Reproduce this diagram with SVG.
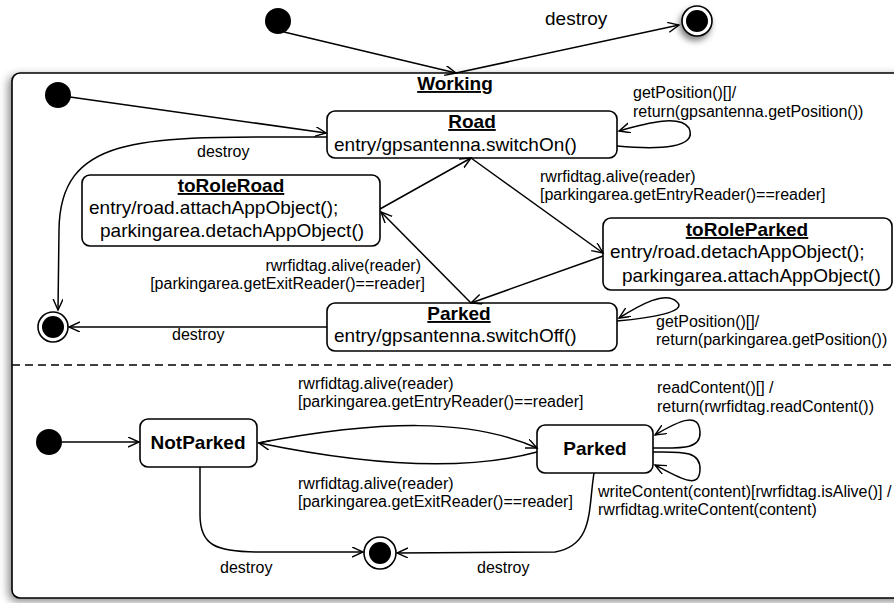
<svg xmlns="http://www.w3.org/2000/svg" width="894" height="603" viewBox="0 0 894 603">
<defs>
<filter id="sh" x="-10%" y="-10%" width="120%" height="120%">
<feDropShadow dx="-3" dy="3" stdDeviation="4" flood-color="#000" flood-opacity="0.45"/>
</filter>
<filter id="sh2" x="-60%" y="-60%" width="220%" height="220%">
<feDropShadow dx="-2" dy="4" stdDeviation="3" flood-color="#000" flood-opacity="0.5"/>
</filter>
<marker id="ar" markerWidth="14" markerHeight="12" refX="11" refY="5" orient="auto" markerUnits="userSpaceOnUse">
<path d="M0,0 L11,5 L0,10" fill="none" stroke="#000" stroke-width="1.4"/>
</marker>
</defs>
<style>
.box{fill:#fff;stroke:#000;stroke-width:1.6}
.ln{fill:none;stroke:#000;stroke-width:1.5}
.t{font-family:"Liberation Sans",Arial,sans-serif;font-size:19px;fill:#000}
.b{font-weight:bold}
.u{text-decoration:underline}
.lb{font-family:"Liberation Sans",Arial,sans-serif;font-size:16px;fill:#000}
.init{fill:#000}
</style>
<rect width="894" height="603" fill="#fff"/>

<g id="Working">
<rect x="12" y="73" width="900" height="525" rx="8" class="box" filter="url(#sh)"/>
<text x="455" y="90" text-anchor="middle" class="t b u">Working</text>
<line x1="12" y1="365" x2="894" y2="365" stroke="#000" stroke-width="1.5" stroke-dasharray="8,5"/>
</g>

<g id="init_top"><circle cx="278" cy="21" r="13" class="init"/></g>
<g id="final_top" filter="url(#sh2)"><circle cx="697" cy="21" r="15" fill="#fff" stroke="#000" stroke-width="1.6"/><circle cx="697" cy="21" r="11" fill="#000"/></g>

<g id="init_work"><circle cx="58" cy="95" r="13" class="init"/></g>
<g id="final_work"><circle cx="53" cy="327" r="15" fill="#fff" stroke="#000" stroke-width="1.6"/><circle cx="53" cy="327" r="11" fill="#000"/></g>

<g id="Road">
<rect x="327" y="111" width="290" height="47" rx="8" class="box"/>
<text x="472" y="128" text-anchor="middle" class="t b u">Road</text>
<text x="334" y="151" class="t">entry/gpsantenna.switchOn()</text>
</g>

<g id="toRoleRoad">
<rect x="82" y="175" width="298" height="71" rx="8" class="box"/>
<text x="231" y="192" text-anchor="middle" class="t b u">toRoleRoad</text>
<text x="89" y="214" class="t">entry/road.attachAppObject();</text>
<text x="100" y="237" class="t">parkingarea.detachAppObject()</text>
</g>

<g id="toRoleParked">
<rect x="603" y="218" width="289" height="72" rx="8" class="box"/>
<text x="747" y="236" text-anchor="middle" class="t b u">toRoleParked</text>
<text x="610" y="258" class="t">entry/road.detachAppObject();</text>
<text x="622" y="282" class="t">parkingarea.attachAppObject()</text>
</g>

<g id="ParkedW">
<rect x="327" y="303" width="290" height="48" rx="8" class="box"/>
<text x="459" y="320" text-anchor="middle" class="t b u">Parked</text>
<text x="334" y="342" class="t">entry/gpsantenna.switchOff()</text>
</g>

<g id="init_low"><circle cx="49" cy="442" r="13" class="init"/></g>
<g id="final_low"><circle cx="380" cy="553" r="16" fill="#fff" stroke="#000" stroke-width="1.6"/><circle cx="380" cy="553" r="11" fill="#000"/></g>

<g id="NotParked">
<rect x="140" y="419" width="117" height="48" rx="8" class="box"/>
<text x="198" y="449" text-anchor="middle" class="t b">NotParked</text>
</g>

<g id="ParkedL">
<rect x="537" y="425" width="116" height="48" rx="8" class="box"/>
<text x="595" y="455" text-anchor="middle" class="t b">Parked</text>
</g>

<g id="connectors">
<path class="ln" d="M284,32 L456,73" marker-end="url(#ar)"/>
<path class="ln" d="M456,73 L679,25" marker-end="url(#ar)"/>
<path class="ln" d="M70,97 L326,133" marker-end="url(#ar)"/>
<path class="ln" d="M327,137 C150,137 60,130 59,230 L58,310" marker-end="url(#ar)"/>
<path class="ln" d="M617,146 C660,150 698,148 689,128 C680,115 650,122 619,131" marker-end="url(#ar)"/>
<path class="ln" d="M380,209 L471,158" marker-end="url(#ar)"/>
<path class="ln" d="M471,158 L603,253" marker-end="url(#ar)"/>
<path class="ln" d="M603,256 L471,303" marker-end="url(#ar)"/>
<path class="ln" d="M471,303 L381,212" marker-end="url(#ar)"/>
<path class="ln" d="M617,321 C650,318 688,312 677,302 C666,290 640,305 619,318" marker-end="url(#ar)"/>
<path class="ln" d="M327,327 L69,327" marker-end="url(#ar)"/>
<path class="ln" d="M62,442 L139,442" marker-end="url(#ar)"/>
<path class="ln" d="M258,443 C380,420 470,418 537,448" marker-end="url(#ar)"/>
<path class="ln" d="M537,452 C470,470 380,468 259,443" marker-end="url(#ar)"/>
<path class="ln" d="M653,448 C680,448 701,450 700,432 C699,412 680,420 655,435" marker-end="url(#ar)"/>
<path class="ln" d="M653,452 C680,452 701,450 700,470 C699,490 680,478 655,465" marker-end="url(#ar)"/>
<path class="ln" d="M200,467 L200,515 C200,545 215,552 260,552 L363,552" marker-end="url(#ar)"/>
<path class="ln" d="M594,473 C588,510 594,545 555,552 L397,553" marker-end="url(#ar)"/>
</g>

<g id="labels">
<text x="545" y="25" class="t">destroy</text>
<text x="197" y="157" class="lb">destroy</text>
<text x="633" y="98" class="lb">getPosition()[]/</text>
<text x="633" y="117" class="lb">return(gpsantenna.getPosition())</text>
<text x="540" y="182" class="lb">rwrfidtag.alive(reader)</text>
<text x="540" y="200" class="lb">[parkingarea.getEntryReader()==reader]</text>
<text x="421" y="271" text-anchor="end" class="lb">rwrfidtag.alive(reader)</text>
<text x="425" y="289" text-anchor="end" class="lb">[parkingarea.getExitReader()==reader]</text>
<text x="656" y="327" class="lb">getPosition()[]/</text>
<text x="656" y="345" class="lb">return(parkingarea.getPosition())</text>
<text x="172" y="340" class="lb">destroy</text>
<text x="298" y="389" class="lb">rwrfidtag.alive(reader)</text>
<text x="298" y="407" class="lb">[parkingarea.getEntryReader()==reader]</text>
<text x="298" y="489" class="lb">rwrfidtag.alive(reader)</text>
<text x="298" y="507" class="lb">[parkingarea.getExitReader()==reader]</text>
<text x="657" y="393" class="lb">readContent()[] /</text>
<text x="657" y="412" class="lb">return(rwrfidtag.readContent())</text>
<text x="598" y="497" class="lb">writeContent(content)[rwrfidtag.isAlive()] /</text>
<text x="598" y="515" class="lb">rwrfidtag.writeContent(content)</text>
<text x="220" y="573" class="lb">destroy</text>
<text x="477" y="573" class="lb">destroy</text>
</g>
</svg>
